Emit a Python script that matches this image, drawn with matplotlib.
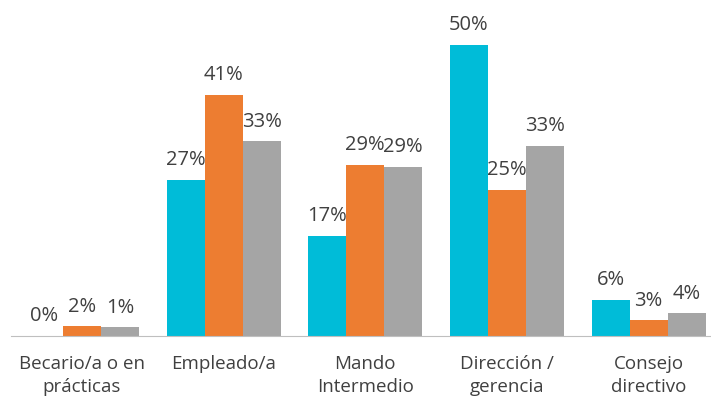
import numpy as np
import matplotlib.pyplot as plt

categories = ["Becario/a o en\nprácticas", "Empleado/a", "Mando\nIntermedio",
              "Dirección /\ngerencia", "Consejo\ndirectivo"]
serie_1 = [0.0, 26.8, 17.1, 50.0, 6.1]
serie_2 = [1.6, 41.4, 29.3, 25.0, 2.6]
serie_3 = [1.4, 33.4, 29.0, 32.6, 3.8]

colors = ["#00BCD8", "#ED7D31", "#A5A5A5"]
text_color = "#404040"

plt.rcParams['font.family'] = ['Open Sans', 'DejaVu Sans']

fig = plt.figure(figsize=(7.11, 4.01), dpi=100)
ax = fig.add_axes([11 / 711, 0.1633, 700 / 711, 0.798])

x = np.arange(len(categories))
w = 0.268
for i, (vals, c) in enumerate(zip([serie_1, serie_2, serie_3], colors)):
    pos = x + (i - 1) * w
    ax.bar(pos, vals, width=w, color=c, edgecolor="none")
    for p, v in zip(pos, vals):
        ax.annotate(f"{v:.0f}%", (p, v), xytext=(0, 10.5), textcoords="offset points",
                    ha="center", va="baseline", fontsize=14.5, color=text_color)

ax.set_xlim(-0.5, 4.44)
ax.set_ylim(0, 55)
ax.set_xticks(x)
ax.set_xticklabels(categories, fontsize=13.5, color=text_color, linespacing=1.35)
ax.tick_params(axis="x", length=0, pad=14)
ax.set_yticks([])
for s in ["top", "right", "left"]:
    ax.spines[s].set_visible(False)
ax.spines["bottom"].set_color("#BFBFBF")

fig.savefig("out.png", dpi=100)
